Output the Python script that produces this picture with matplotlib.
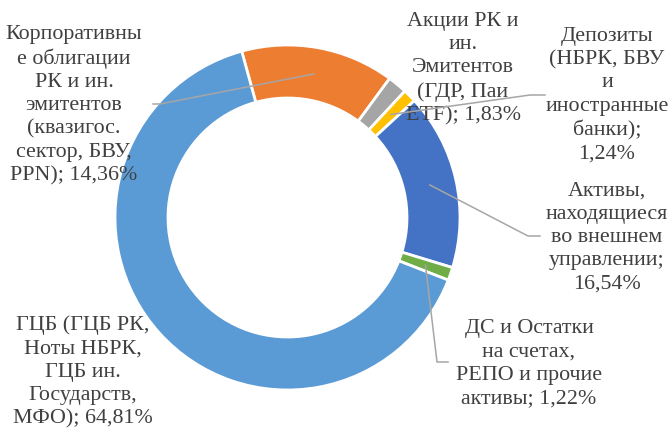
import numpy as np
import matplotlib
matplotlib.use("Agg")
import matplotlib.pyplot as plt

labels = [
    "Корпоративны\nе облигации\nРК и ин.\nэмитентов\n(квазигос.\nсектор, БВУ,\nPPN); 14,36%",
    "Акции РК и\nин.\nЭмитентов\n(ГДР, Паи\nETF); 1,83%",
    "Депозиты\n(НБРК, БВУ\nи\nиностранные\nбанки);\n1,24%",
    "Активы,\nнаходящиеся\nво внешнем\nуправлении;\n16,54%",
    "ДС и Остатки\nна счетах,\nРЕПО и прочие\nактивы; 1,22%",
    "ГЦБ (ГЦБ РК,\nНоты НБРК,\nГЦБ ин.\nГосударств,\nМФО); 64,81%",
]
values = [14.36, 1.83, 1.24, 16.54, 1.22, 64.81]
colors = ["#ED7D31", "#A5A5A5", "#FFC000", "#4472C4", "#70AD47", "#5B9BD5"]

W, H = 669, 429
fig = plt.figure(figsize=(W / 100, H / 100), dpi=100)
ax = fig.add_axes([0, 0, 1, 1])
ax.set_xlim(0, W)
ax.set_ylim(0, H)
ax.set_aspect("equal")
ax.axis("off")

cx, cy = 287.5, H - 217.5
R = 172.5
width = 53
start = 105.4
wedges, _ = ax.pie(values, colors=colors, startangle=start, counterclock=False,
                   center=(cx, cy), radius=R,
                   wedgeprops=dict(width=width, edgecolor="white", linewidth=2))
ax.set_xlim(0, W)
ax.set_ylim(0, H)

def img(x, y):
    return x, H - y

# label block centres (image coords)
pos = [(74, 105), (463, 68.5), (607, 95), (607, 237.5), (529, 363.5), (83, 372)]
# leader bend points (image coords), None = no leader
bends = [[(153, 104), (160, 104)], None, [(545, 95), (530, 95)],
         [(540, 236), (528, 236)], [(448, 362), (437, 362)], None]

txtcol = "#404040"
for w, lab, p, b in zip(wedges, labels, pos, bends):
    x, y = img(*p)
    ax.text(x, y, lab, ha="center", va="center", fontsize=15.8,
            family=["Liberation Serif", "DejaVu Serif"], color=txtcol,
            linespacing=1.3)
    if b is not None:
        ang = np.deg2rad((w.theta1 + w.theta2) / 2)
        rm = R - width / 2
        mx, my = cx + rm * np.cos(ang), cy + rm * np.sin(ang)
        xs = [img(*q)[0] for q in b] + [mx]
        ys = [img(*q)[1] for q in b] + [my]
        ax.plot(xs, ys, color="#A6A6A6", lw=1.1, zorder=5)

fig.savefig("out.png", dpi=100)
